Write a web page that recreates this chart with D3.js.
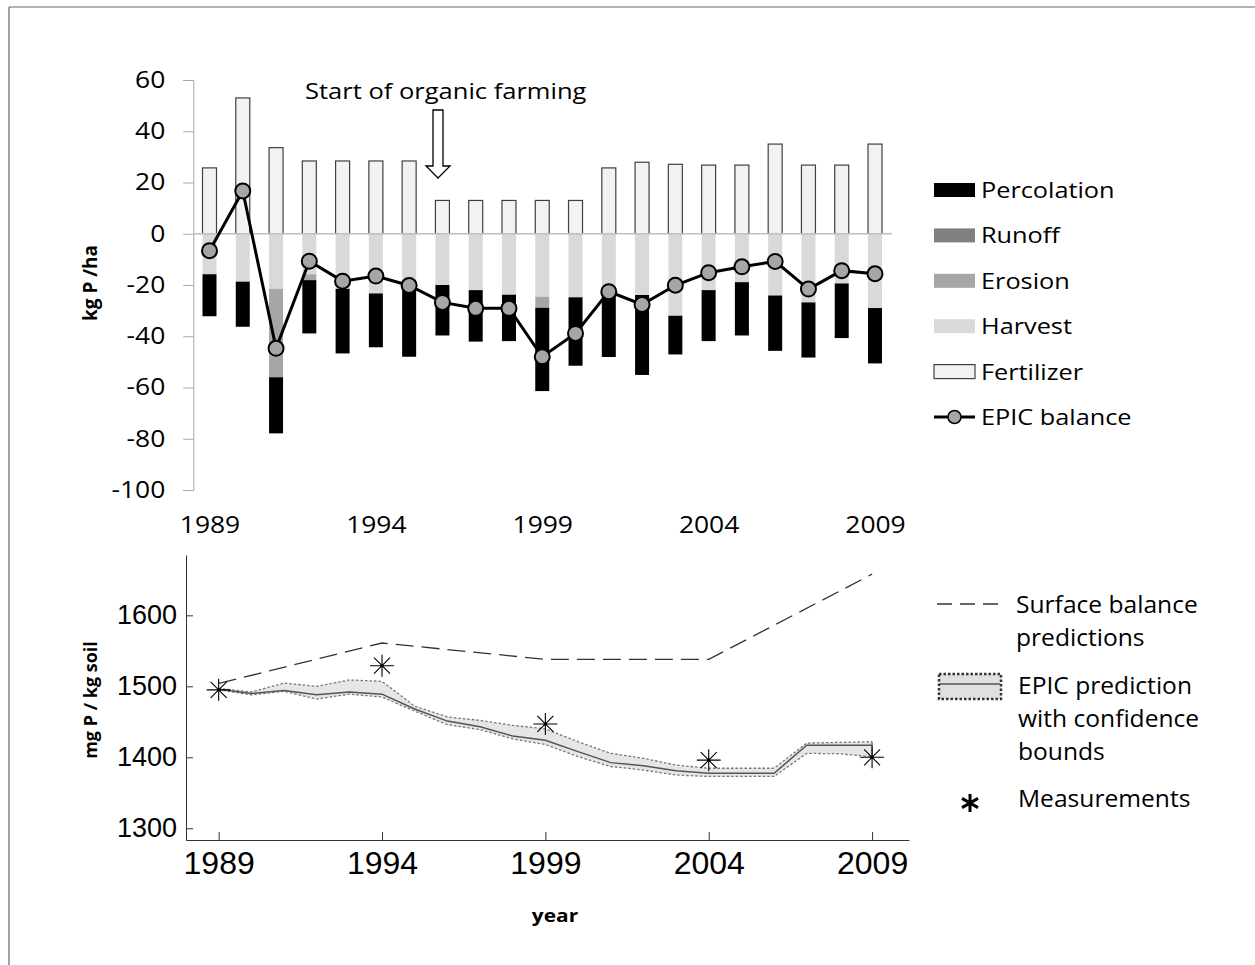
<!DOCTYPE html>
<html><head><meta charset="utf-8">
<script src="https://cdn.jsdelivr.net/npm/d3@7"></script>
<style>body{margin:0;background:#fff}svg{display:block}</style>
</head><body>
<svg id="c" width="1255" height="965"></svg>
<script>
// ---------- DATA ----------
const years = [1989,1990,1991,1992,1993,1994,1995,1996,1997,1998,1999,2000,2001,2002,2003,2004,2005,2006,2007,2008,2009];
const fertilizer  = [25.7,53,33.6,28.4,28.4,28.4,28.4,13,13,13,13,13,25.7,27.9,27.1,26.8,26.8,35,26.8,26.8,35];
const harvest     = [15.8,18.7,21.5,15.8,21.5,23.3,18.3,20,22,23.8,24.6,24.8,22.4,23.9,32,22,18.9,24.1,26.8,19.4,29];
const erosion     = [0,0,34.5,2.3,0,0,0,0,0,0,4.3,0,0,0,0,0,0,0,0,0,0];
const runoff      = [0,0,0,0,0,0,0,0,0,0,0,0,0,0,0,0,0,0,0,0,0];
const percolation = [16.4,17.6,21.9,20.8,25.2,21.0,29.7,19.7,20.1,18.1,32.5,26.7,25.7,31.2,15.1,19.9,20.8,21.6,21.5,21.3,21.6];
const epicBalance = [-6.6,16.7,-44.7,-10.7,-18.5,-16.5,-20.2,-26.8,-29.1,-29.1,-48,-38.9,-22.6,-27.6,-20.1,-15.2,-12.9,-10.8,-21.6,-14.4,-15.6];
const topYTicks = [60,40,20,0,-20,-40,-60,-80,-100];
const topXTicks = [1989,1994,1999,2004,2009];

const epicPred  = [1496,1490,1494,1488,1492,1489,1468,1451,1443,1430,1424,1408,1392.5,1388,1381,1377.5,1377.5,1377.5,1417,1417,1417];
const epicUpper = [1497,1492,1504.5,1500,1509,1507,1472,1457,1452,1445,1440,1422,1405.6,1398.6,1389,1384.6,1384.6,1384.6,1420,1421,1422];
const epicLower = [1495,1488,1493,1482,1489,1485,1465,1446,1439,1426,1418,1401,1387,1382,1375,1373,1373,1373,1405.6,1405,1401];
const surfYears = [1989,1994,1999,2004,2009];
const surfVals  = [1504,1561,1538,1538,1658];
const measYears = [1989,1994,1999,2004,2009];
const measVals  = [1495,1529,1447,1396,1400];
const botYTicks = [1300,1400,1500,1600];
const botXTicks = [1989,1994,1999,2004,2009];

const stackKeys = ["fertilizer","harvest","erosion","runoff","percolation"];
const colors = {fertilizer:"#f2f2f2",harvest:"#d9d9d9",erosion:"#a6a6a6",runoff:"#808080",percolation:"#000000"};
const legendTop = [
  {key:"percolation",label:"Percolation"},
  {key:"runoff",label:"Runoff"},
  {key:"erosion",label:"Erosion"},
  {key:"harvest",label:"Harvest"},
  {key:"fertilizer",label:"Fertilizer"},
  {key:"balance",label:"EPIC balance"}
];

// ---------- SETUP ----------
const svg = d3.select("#c");
const SANS = "'Open Sans', 'Noto Sans', sans-serif";
const ARIAL = "'Liberation Sans', Arial, sans-serif";
function stext(g, x, y, s, size, sx, opts={}) {
  return g.append("text")
    .attr("transform", `translate(${x},${y}) scale(${sx},1)`)
    .attr("font-family", opts.family || SANS)
    .attr("font-size", size)
    .attr("font-weight", opts.weight || "normal")
    .attr("text-anchor", opts.anchor || "start")
    .attr("fill", "#000")
    .text(s);
}

// frame
svg.append("line").attr("x1",9).attr("y1",7).attr("x2",1255).attr("y2",7).attr("stroke","#666").attr("stroke-width",1.2);
svg.append("line").attr("x1",9).attr("y1",7).attr("x2",9).attr("y2",965).attr("stroke","#666").attr("stroke-width",1.2);

// ---------- TOP CHART ----------
const xT = d3.scalePoint().domain(years).range([209.5, 875]);
const yT = d3.scaleLinear().domain([-100, 60]).range([490, 80]);
const barW = 14;

const rows = years.map((yr,i)=>({year:yr, fertilizer:fertilizer[i], harvest:-harvest[i], erosion:-erosion[i], runoff:-runoff[i], percolation:-percolation[i]}));
const series = d3.stack().keys(stackKeys).offset(d3.stackOffsetDiverging)(rows);

const topG = svg.append("g");
// y axis
const yAxT = topG.append("g").attr("transform","translate(193.3,0)")
  .call(d3.axisLeft(yT).tickValues(topYTicks).tickSize(10).tickPadding(18).tickFormat(d=>String(d)));
yAxT.select(".domain").attr("stroke","#a6a6a6");
yAxT.selectAll(".tick line").attr("stroke","#a6a6a6");
yAxT.selectAll(".tick text").attr("font-family",SANS).attr("font-size",23).attr("fill","#000")
  .attr("x", -28/1.15).attr("transform","scale(1.15,1)");

// bars
series.forEach(s=>{
  topG.append("g").selectAll("rect").data(s.filter(d=>Math.abs(d[1]-d[0])>0)).join("rect")
    .attr("x", d=>xT(d.data.year)-barW/2)
    .attr("width", barW)
    .attr("y", d=>yT(Math.max(d[0],d[1])))
    .attr("height", d=>Math.abs(yT(d[0])-yT(d[1])))
    .attr("fill", colors[s.key])
    .attr("stroke", s.key==="fertilizer" ? "#404040" : "none")
    .attr("stroke-width", 1.2);
});
// zero line
topG.append("line").attr("x1",193.3).attr("x2",892).attr("y1",yT(0)).attr("y2",yT(0)).attr("stroke","#bfbfbf").attr("stroke-width",1.5);

// balance line
topG.append("path").datum(years.map((yr,i)=>[yr,epicBalance[i]]))
  .attr("d", d3.line().x(d=>xT(d[0])).y(d=>yT(d[1])))
  .attr("fill","none").attr("stroke","#000").attr("stroke-width",3);
topG.append("g").selectAll("circle").data(years.map((yr,i)=>[yr,epicBalance[i]])).join("circle")
  .attr("cx", d=>xT(d[0])).attr("cy", d=>yT(d[1])).attr("r",7.5)
  .attr("fill","#a6a6a6").attr("stroke","#000").attr("stroke-width",2);

// x labels
const xAxT = topG.append("g").attr("transform","translate(0,517)")
  .call(d3.axisBottom(xT).tickValues(topXTicks).tickSize(0).tickPadding(0));
xAxT.select(".domain").remove();
xAxT.selectAll(".tick text").attr("font-family",SANS).attr("font-size",23).attr("fill","#000")
  .attr("transform","scale(1.15,1)");

// y title
topG.append("text").attr("transform","translate(97,283) rotate(-90)")
  .attr("text-anchor","middle").attr("font-family",SANS).attr("font-weight","bold").attr("font-size",19)
  .text("kg P /ha");

// annotation
stext(topG, 305, 98.5, "Start of organic farming", 22, 1.16);
topG.append("path")
  .attr("d","M433,110 L443,110 L443,166 L450,166 L438,178 L426,166 L433,166 Z")
  .attr("fill","#fff").attr("stroke","#000").attr("stroke-width",1.3);

// legend top
const lgT = topG.append("g");
legendTop.forEach((it,i)=>{
  const base = 198 + i*45.4;
  if (it.key==="balance") {
    lgT.append("line").attr("x1",934).attr("x2",975).attr("y1",base-8).attr("y2",base-8).attr("stroke","#000").attr("stroke-width",3);
    lgT.append("circle").attr("cx",954.5).attr("cy",base-8).attr("r",6.5).attr("fill","#a6a6a6").attr("stroke","#000").attr("stroke-width",1.5);
  } else {
    lgT.append("rect").attr("x",934).attr("y",base-15).attr("width",41).attr("height",14)
      .attr("fill",colors[it.key]).attr("stroke", it.key==="fertilizer" ? "#404040":"none").attr("stroke-width",1.2);
  }
  stext(lgT, 981, base, it.label, 22, 1.15);
});

// ---------- BOTTOM CHART ----------
const xB = d3.scaleLinear().domain([1988, 2010.13]).range([186, 909]);
const yB = d3.scaleLinear().domain([1283.5, 1685]).range([840, 555]);
const bot = svg.append("g");

const yAxB = bot.append("g").attr("transform","translate(186,0)")
  .call(d3.axisLeft(yB).tickValues(botYTicks).tickSizeInner(-7).tickSizeOuter(0).tickPadding(9).tickFormat(d3.format("d")));
yAxB.select(".domain").attr("stroke","#333");
yAxB.selectAll(".tick line").attr("stroke","#333");
yAxB.selectAll(".tick text").attr("font-family",ARIAL).attr("font-size",27).attr("fill","#000");

const xAxB = bot.append("g").attr("transform","translate(0,840)")
  .call(d3.axisBottom(xB).tickValues(botXTicks).tickSizeInner(-8).tickSizeOuter(0).tickPadding(11).tickFormat(d3.format("d")));
xAxB.select(".domain").attr("stroke","#333");
xAxB.selectAll(".tick line").attr("stroke","#333");
xAxB.selectAll(".tick text").attr("font-family",ARIAL).attr("font-size",32).attr("fill","#000");

// band
const band = years.map((yr,i)=>({x:yr, lo:epicLower[i], hi:epicUpper[i], m:epicPred[i]}));
bot.append("path").datum(band)
  .attr("d", d3.area().x(d=>xB(d.x)).y0(d=>yB(d.lo)).y1(d=>yB(d.hi)))
  .attr("fill","#e6e6e6").attr("stroke","none");
bot.append("path").datum(band).attr("d", d3.line().x(d=>xB(d.x)).y(d=>yB(d.hi)))
  .attr("fill","none").attr("stroke","#777").attr("stroke-width",1.3).attr("stroke-dasharray","2.5,2");
bot.append("path").datum(band).attr("d", d3.line().x(d=>xB(d.x)).y(d=>yB(d.lo)))
  .attr("fill","none").attr("stroke","#777").attr("stroke-width",1.3).attr("stroke-dasharray","2.5,2");
bot.append("path").datum(band).attr("d", d3.line().x(d=>xB(d.x)).y(d=>yB(d.m)))
  .attr("fill","none").attr("stroke","#555").attr("stroke-width",1.5);
// right edge of band
bot.append("line").attr("x1",xB(2009)).attr("x2",xB(2009)).attr("y1",yB(epicUpper[20])).attr("y2",yB(epicLower[20]))
  .attr("stroke","#555").attr("stroke-width",1.2);

// surface balance dashed
bot.append("path").datum(surfYears.map((yr,i)=>[yr,surfVals[i]]))
  .attr("d", d3.line().x(d=>xB(d[0])).y(d=>yB(d[1])))
  .attr("fill","none").attr("stroke","#333").attr("stroke-width",1.3).attr("stroke-dasharray","18,8");

// measurements (asterisks)
const ast = "M-12,0L12,0M0,-11L0,11M-8,-8L8,8M-8,8L8,-8";
bot.append("g").selectAll("path").data(measYears.map((yr,i)=>[yr,measVals[i]])).join("path")
  .attr("transform", d=>`translate(${xB(d[0])},${yB(d[1])})`)
  .attr("d", ast).attr("stroke","#000").attr("stroke-width",1.1).attr("fill","none");
bot.append("g").selectAll("circle").data(measYears.map((yr,i)=>[yr,measVals[i]])).join("circle")
  .attr("cx", d=>xB(d[0])).attr("cy", d=>yB(d[1])).attr("r",1.6).attr("fill","#000");

// titles
bot.append("text").attr("transform","translate(97,700) rotate(-90)")
  .attr("text-anchor","middle").attr("font-family",SANS).attr("font-weight","bold").attr("font-size",18)
  .text("mg P / kg soil");
stext(bot, 555, 922, "year", 18, 1.16, {weight:"bold", anchor:"middle"});

// bottom legend
const lgB = bot.append("g");
lgB.append("line").attr("x1",937).attr("x2",1000).attr("y1",604).attr("y2",604)
  .attr("stroke","#333").attr("stroke-width",1.5).attr("stroke-dasharray","15,8");
stext(lgB, 1016, 613, "Surface balance", 23, 1.07);
stext(lgB, 1016, 646, "predictions", 23, 1.07);
lgB.append("rect").attr("x",939).attr("y",674).attr("width",62).attr("height",25)
  .attr("fill","#e0e0e0").attr("stroke","#333").attr("stroke-width",2.5).attr("stroke-dasharray","2.5,2");
lgB.append("line").attr("x1",940).attr("x2",1000).attr("y1",684).attr("y2",684).attr("stroke","#555").attr("stroke-width",1.5);
stext(lgB, 1018, 694, "EPIC prediction", 23, 1.07);
stext(lgB, 1018, 727, "with confidence", 23, 1.07);
stext(lgB, 1018, 760, "bounds", 23, 1.07);
lgB.append("path").attr("transform","translate(970,803)")
  .attr("d","M0,-9L0,9M-8,-4.6L8,4.6M-8,4.6L8,-4.6").attr("stroke","#000").attr("stroke-width",3).attr("fill","none");
stext(lgB, 1018, 807, "Measurements", 23, 1.07);
</script>
</body></html>
